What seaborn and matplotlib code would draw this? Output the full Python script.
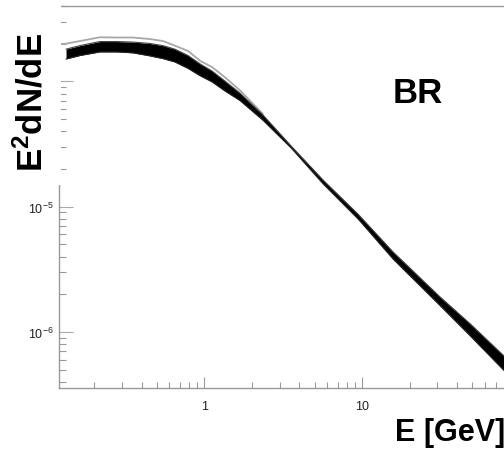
import numpy as np
import pandas as pd
import matplotlib
matplotlib.use("Agg")
import matplotlib.pyplot as plt
import seaborn as sns
from matplotlib.patches import Rectangle
from matplotlib.ticker import FixedLocator, FixedFormatter, LogLocator, NullFormatter

# Energy grid of the model band [GeV]
energy = [0.133, 0.163, 0.218, 0.28, 0.353, 0.45, 0.547, 0.65, 0.788, 0.94,
          1.12, 1.35, 1.68, 2.35, 3.55, 5.66, 9.43, 15.7, 31.2, 48.4, 79.5]
# Upper and lower envelope of the model band, E^2 dN/dE
band_upper = [1.81e-4, 1.93e-4, 2.08e-4, 2.08e-4, 2.06e-4, 2.01e-4, 1.93e-4,
              1.81e-4, 1.61e-4, 1.38e-4, 1.21e-4, 1.007e-4, 8.08e-5, 5.4e-5,
              3.05e-5, 1.63e-5, 8.7e-6, 4.35e-6, 1.90e-6, 1.16e-6, 6.4e-7]
band_lower = [1.51e-4, 1.61e-4, 1.72e-4, 1.72e-4, 1.69e-4, 1.60e-4, 1.52e-4,
              1.43e-4, 1.27e-4, 1.11e-4, 9.9e-5, 8.39e-5, 7.04e-5, 4.9e-5,
              2.94e-5, 1.52e-5, 7.97e-6, 3.82e-6, 1.62e-6, 9.3e-7, 4.9e-7]
# Outlying model curve at low energy
outer_energy = [0.123, 0.133, 0.163, 0.218, 0.28, 0.353, 0.45, 0.547, 0.65,
                0.788, 0.94, 1.12, 1.35, 1.68, 2.35]
outer_flux = [1.99e-4, 2.0e-4, 2.10e-4, 2.25e-4, 2.24e-4, 2.24e-4, 2.18e-4,
              2.10e-4, 1.93e-4, 1.75e-4, 1.46e-4, 1.30e-4, 1.08e-4, 8.5e-5,
              5.5e-5]

x_major = [1, 10, 100]
x_major_labels = ["1", "10", ""]
y_major = [1e-6, 1e-5, 1e-4]
y_major_labels = [r"$10^{-6}$", r"$10^{-5}$", ""]

sns.set_style("white")
plt.rcParams["font.family"] = ["Liberation Sans", "DejaVu Sans"]
plt.rcParams["mathtext.fontset"] = "custom"
plt.rcParams["mathtext.rm"] = "Liberation Sans"
plt.rcParams["mathtext.bf"] = "Liberation Sans:bold"
plt.rcParams["mathtext.default"] = "regular"
plt.rcParams["text.color"] = "black"

fig = plt.figure(figsize=(5.04, 4.52), dpi=100)
ax = fig.add_axes([59 / 504, 63 / 452, 461 / 504, 382.3 / 452])

band = pd.DataFrame({"E": energy, "upper": band_upper, "lower": band_lower})
outer = pd.DataFrame({"E": outer_energy, "flux": outer_flux})

ax.fill_between(band["E"], band["lower"], band["upper"], color="black",
                linewidth=0, zorder=2)
sns.lineplot(data=band, x="E", y="upper", ax=ax, color="#444444", lw=0.8,
             zorder=3)
sns.lineplot(data=band, x="E", y="lower", ax=ax, color="#222222", lw=0.8,
             zorder=3)
sns.lineplot(data=outer, x="E", y="flux", ax=ax, color="#a8a8a8", lw=1.3,
             zorder=1)

ax.set_xscale("log")
ax.set_yscale("log")
ax.set_xlim(0.12, 100)
ax.set_ylim(3.57e-7, 4.02e-4)

ax.xaxis.set_major_locator(FixedLocator(x_major))
ax.xaxis.set_major_formatter(FixedFormatter(x_major_labels))
ax.xaxis.set_minor_locator(LogLocator(base=10, subs=np.arange(2, 10), numticks=20))
ax.xaxis.set_minor_formatter(NullFormatter())
ax.yaxis.set_major_locator(FixedLocator(y_major))
ax.yaxis.set_major_formatter(FixedFormatter(y_major_labels))
ax.yaxis.set_minor_locator(LogLocator(base=10, subs=np.arange(2, 10), numticks=20))
ax.yaxis.set_minor_formatter(NullFormatter())

ax.set_xlabel("")
ax.set_ylabel("")

ax.tick_params(which="both", bottom=True, left=True, top=False, right=False)
ax.tick_params(axis="x", which="major", direction="in", length=8, width=0.8,
               color="#999999", labelsize=9, labelcolor="#222222", pad=9)
ax.tick_params(axis="x", which="minor", direction="in", length=4, width=0.8,
               color="#999999")
ax.tick_params(axis="y", which="major", direction="in", length=10, width=0.8,
               color="#aaaaaa", labelsize=9, labelcolor="#222222", pad=4)
ax.tick_params(axis="y", which="minor", direction="in", length=5, width=0.8,
               color="#999999")

for side in ["left", "bottom", "top"]:
    ax.spines[side].set_color("#999999")
    ax.spines[side].set_linewidth(1.0)
ax.spines["right"].set_visible(False)

# BR label
ax.text(393 / 504, 1 - 103 / 452, "BR", transform=fig.transFigure,
        fontsize=25, fontweight="bold", color="black", ha="left",
        va="baseline")

# White panel behind the rotated y title
fig.patches.append(Rectangle((0, 1 - 186 / 452), 61 / 504, 186 / 452,
                             transform=fig.transFigure, facecolor="white",
                             edgecolor="none", zorder=5))
fig.text(32 / 504, 1 - 102 / 452, r"$\mathbf{E^{2}dN/dE}$", rotation=90,
         fontsize=25, color="black", ha="center", va="center", zorder=6)

fig.text(395 / 504, 1 - 441 / 452, "E [GeV]", fontsize=22, fontweight="bold",
         color="black", ha="left", va="baseline")

fig.savefig("out.png", dpi=100)
